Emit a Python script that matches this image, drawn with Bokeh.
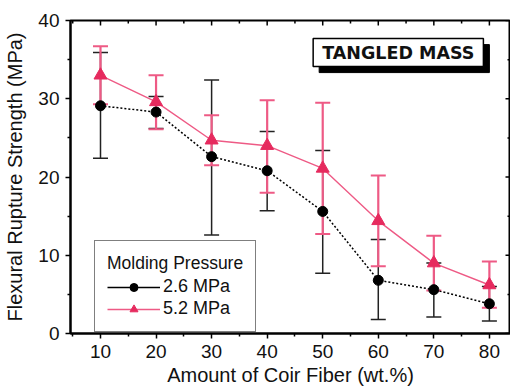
from bokeh.plotting import figure
from bokeh.models import (ColumnDataSource, Whisker, TeeHead, Legend, LegendItem,
                          Label, Range1d, FixedTicker)
from bokeh.embed import file_html
from bokeh.resources import INLINE

# ---- data ----
fiber = [10, 20, 30, 40, 50, 60, 70, 80]
p26 = [29.1, 28.3, 22.6, 20.8, 15.6, 6.8, 5.6, 3.8]
p26_upper = [35.9, 30.3, 32.4, 25.8, 23.4, 12.0, 9.0, 6.0]
p26_lower = [22.4, 26.2, 12.6, 15.7, 7.7, 1.8, 2.1, 1.6]
p52 = [33.0, 29.6, 24.7, 24.0, 21.1, 14.4, 9.0, 6.2]
p52_upper = [36.7, 33.0, 27.9, 29.8, 29.5, 20.2, 12.5, 9.2]
p52_lower = [29.3, 26.1, 21.5, 18.0, 12.7, 8.6, 5.5, 3.3]
x_ticks = [10, 20, 30, 40, 50, 60, 70, 80]
x_minor = [5, 15, 25, 35, 45, 55, 65, 75]
y_ticks = [0, 10, 20, 30, 40]
y_minor = [5, 15, 25, 35]
series_labels = ["2.6 MPa", "5.2 MPa"]
legend_title = "Molding Pressure"
x_title = "Amount of Coir Fiber (wt.%)"
y_title = "Flexural Rupture Strength (MPa)"
note = "TANGLED MASS"

FONT = "Liberation Sans"
RED = "#E62A5E"
RED_LIGHT = "#EE5A85"
X0, X1, Y0, Y1 = 4.6, 83.8, 0, 40

src26 = ColumnDataSource(dict(x=fiber, y=p26, up=p26_upper, lo=p26_lower))
src52 = ColumnDataSource(dict(x=fiber, y=p52, up=p52_upper, lo=p52_lower))

p = figure(width=510, height=392, output_backend="svg", toolbar_location=None,
           x_range=Range1d(X0, X1), y_range=Range1d(Y0, Y1),
           min_border_left=70, min_border_right=0, min_border_top=20, min_border_bottom=59)
p.grid.visible = False
p.outline_line_color = "black"
p.outline_line_width = 2
p.background_fill_color = "white"
p.border_fill_color = "white"

for ax in (p.xaxis[0], p.yaxis[0]):
    ax.axis_line_width = 2
    ax.major_tick_line_width = 1.5
    ax.minor_tick_line_width = 1.5
    ax.major_tick_in = 0
    ax.major_tick_out = 5
    ax.minor_tick_in = 0
    ax.minor_tick_out = 3
    ax.major_label_text_font = FONT
    ax.major_label_text_font_size = "19px"
    ax.major_label_text_color = "#111111"
    ax.axis_label_text_font = FONT
    ax.axis_label_text_font_size = "20px"
    ax.axis_label_text_font_style = "normal"
    ax.axis_label_text_color = "#111111"

p.xaxis.ticker = FixedTicker(ticks=x_ticks, minor_ticks=x_minor)
p.yaxis.ticker = FixedTicker(ticks=y_ticks, minor_ticks=y_minor)
p.xaxis.axis_label = x_title
p.yaxis.axis_label = y_title
p.xaxis.major_label_standoff = 6
p.yaxis.major_label_standoff = 6
p.xaxis.axis_label_standoff = 3
p.yaxis.axis_label_standoff = 9

# mirrored ticks on top and right edges (pointing inwards)
p.ray(x=x_ticks, y=[Y1] * len(x_ticks), length=5, length_units="screen",
      angle=-90, angle_units="deg", line_color="black", line_width=1.5)
p.ray(x=x_minor, y=[Y1] * len(x_minor), length=3, length_units="screen",
      angle=-90, angle_units="deg", line_color="black", line_width=1.5)
p.ray(x=[X1] * len(y_ticks), y=y_ticks, length=5, length_units="screen",
      angle=180, angle_units="deg", line_color="black", line_width=1.5)
p.ray(x=[X1] * len(y_minor), y=y_minor, length=3, length_units="screen",
      angle=180, angle_units="deg", line_color="black", line_width=1.5)

# error bars
w26 = Whisker(source=src26, base="x", upper="up", lower="lo", line_color="#222222", line_width=1.5,
              upper_head=TeeHead(size=15, line_color="#222222", line_width=1.5),
              lower_head=TeeHead(size=15, line_color="#222222", line_width=1.5))
w52 = Whisker(source=src52, base="x", upper="up", lower="lo", line_color=RED_LIGHT, line_width=2.2,
              upper_head=TeeHead(size=15, line_color=RED_LIGHT, line_width=2),
              lower_head=TeeHead(size=15, line_color=RED_LIGHT, line_width=2))
p.add_layout(w26)
p.add_layout(w52)

p.line("x", "y", source=src26, line_color="black", line_width=1.5, line_dash="2 2")
p.scatter("x", "y", source=src26, marker="circle", size=10, fill_color="black", line_color="black")
p.line("x", "y", source=src52, line_color=RED_LIGHT, line_width=1.4)
p.scatter("x", "y", source=src52, marker="triangle", size=13, fill_color=RED, line_color=RED)

# legend-only renderers (smaller markers, solid lines); NaN so nothing shows in the plot
nan = float("nan")
lg26l = p.line(x=[nan, nan], y=[nan, nan], line_color="black", line_width=1.3)
lg26s = p.scatter(x=[nan], y=[nan], marker="circle", size=8, fill_color="black", line_color="black")
lg52l = p.line(x=[nan, nan], y=[nan, nan], line_color=RED_LIGHT, line_width=1.3)
lg52s = p.scatter(x=[nan], y=[nan], marker="triangle", size=10, fill_color=RED, line_color=RED)

legend = Legend(items=[LegendItem(label=series_labels[0], renderers=[lg26l, lg26s]),
                       LegendItem(label=series_labels[1], renderers=[lg52l, lg52s])],
                title=legend_title, location=(24, 1),
                border_line_color="black", border_line_width=1.3,
                label_text_font=FONT, label_text_font_size="18px", label_text_color="#111111",
                title_text_font=FONT, title_text_font_size="17.5px", title_text_font_style="normal",
                title_text_color="#111111",
                glyph_width=53, glyph_height=20, label_standoff=3, spacing=1,
                padding=12, margin=0, title_standoff=2, label_height=20)
p.add_layout(legend, "center")

# TANGLED MASS box with shadow
shadow = Label(x=63.6, y=35.9, x_offset=6, y_offset=-6, text=note, text_align="center",
               text_baseline="middle", text_font="DejaVu Sans", text_font_size="17.5px",
               text_font_style="bold", text_color="black", background_fill_color="black",
               border_line_color="black", padding=(9, 4))
box = Label(x=63.6, y=35.9, text=note, text_align="center",
            text_baseline="middle", text_font="DejaVu Sans", text_font_size="17.5px",
            text_font_style="bold", text_color="#111111", background_fill_color="white",
            border_line_color="black", border_line_width=1.5, padding=(9, 4))
p.add_layout(shadow)
p.add_layout(box)

open("out.html", "w").write(file_html(p, INLINE))
